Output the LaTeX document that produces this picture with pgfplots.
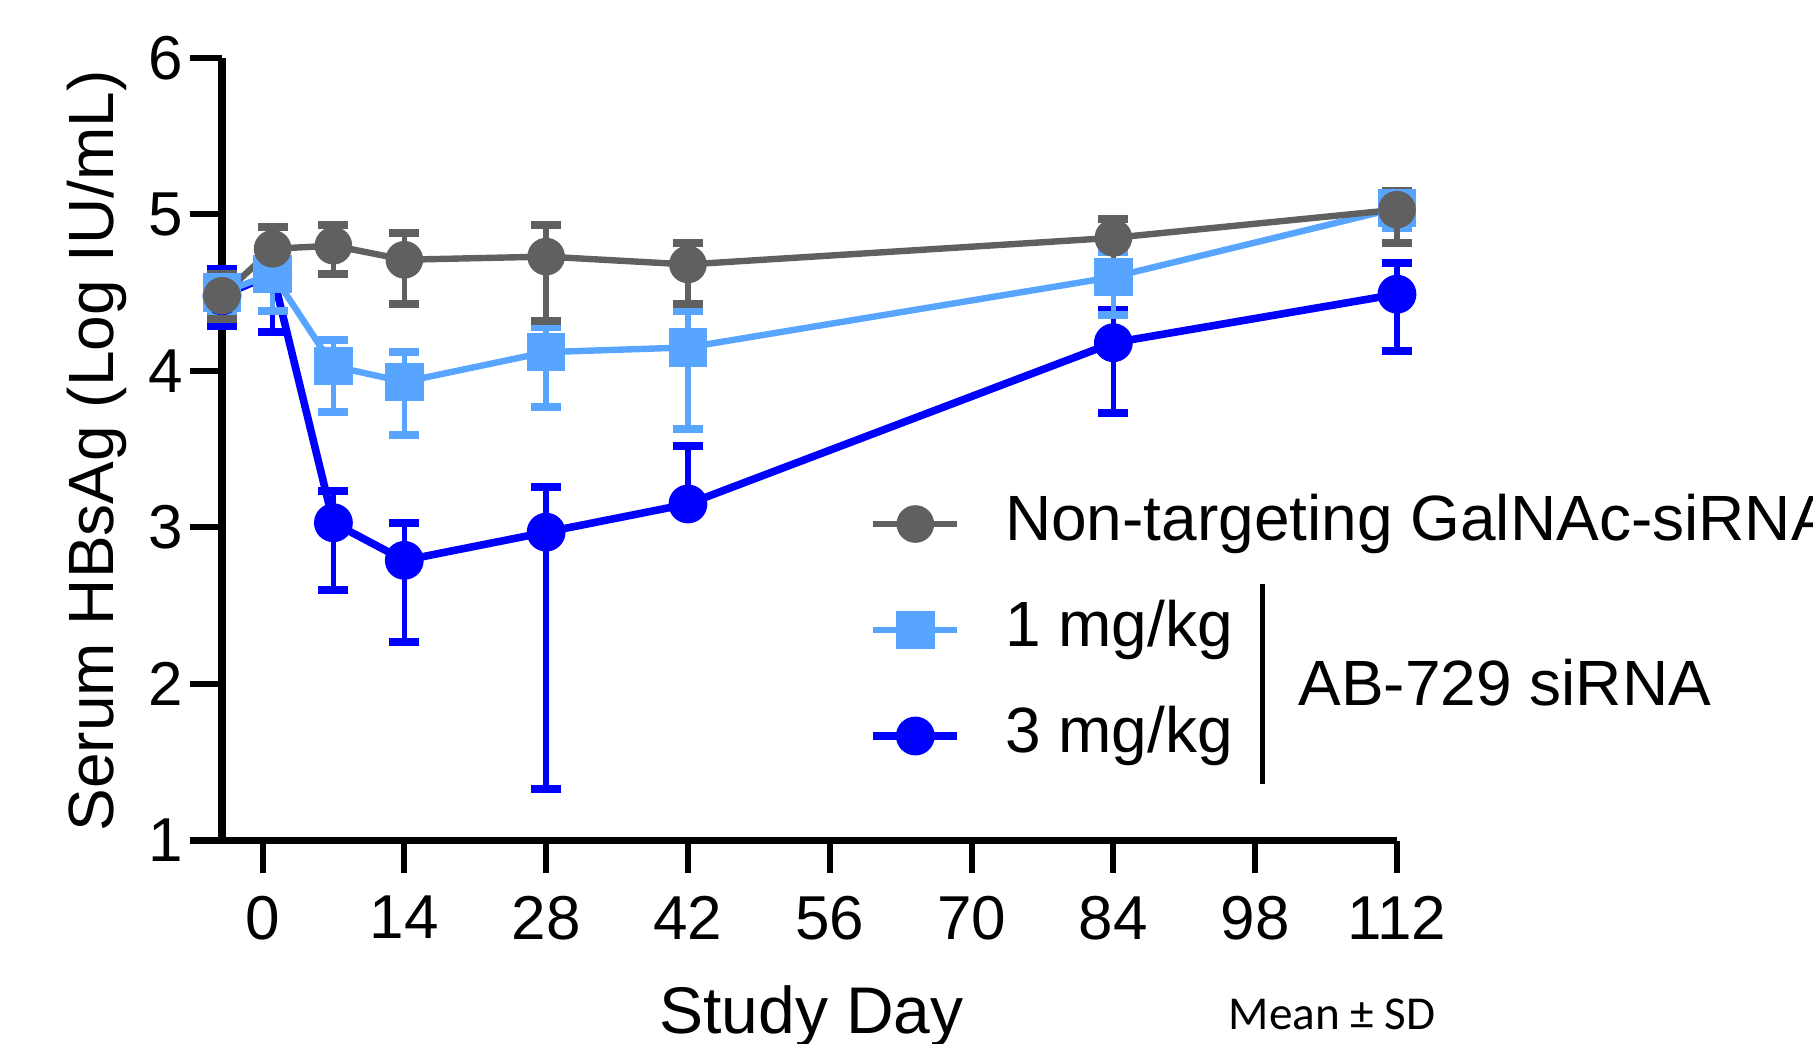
\documentclass[border=0pt]{standalone}
\usepackage{pgfplots}
\pgfplotsset{compat=1.18}
\usepackage{fontspec}
\setmainfont{Liberation Sans}
\newfontfamily\calibri{Carlito}
\definecolor{ntGray}{HTML}{606060}
\definecolor{lowBlue}{HTML}{58A5FF}
\definecolor{highBlue}{HTML}{0000FF}

\begin{document}
\begin{tikzpicture}
\useasboundingbox (-55.5pt,-50.85pt) rectangle (397.75pt,210.15pt);
\begin{axis}[
  scale only axis, width=293.75pt, height=195.7pt,
  xmin=-4, xmax=112, ymin=1, ymax=6,
  xtick={0,14,...,112}, ytick={1,...,6},
  axis x line*=bottom, axis y line*=left,
  axis line style={line width=1.9pt, -},
  tick style={line width=1.5pt, black},
  major tick length=8pt, tick align=outside,
  tick label style={font=\fontsize{15.5}{15.5}\selectfont},
  xticklabel style={yshift=-2.3pt},
  yticklabel style={xshift=1.7pt},
  /pgf/number format/assume math mode=true,
  clip=false,
  reverse legend,
  legend cell align=left,
  legend image code/.code={\draw[mark repeat=2, mark phase=2, #1] plot coordinates {(0pt,0pt) (10.5pt,0pt) (21pt,0pt)};},
  legend style={at={(axis cs:59.85,2.345)}, anchor=west, draw=none, fill=none,
    font=\fontsize{16}{16}\selectfont, row sep=10.5pt, inner sep=0pt,
    nodes={inner sep=0pt, text height=12pt, text depth=4pt},
    /tikz/every odd column/.append style={column sep=11pt}},
]
% 3 mg/kg
\addplot[highBlue, line width=1.9pt, mark=*, mark size=3.9pt, mark options={solid, fill=highBlue},
  error bars/.cd, y dir=both, y explicit,
  error bar style={line width=1.4pt, highBlue},
  error mark options={rotate=90, mark size=3.75pt, line width=2pt, highBlue}]
  coordinates {
  (-4,4.48) += (0,0.17) -= (0,0.19)
  (1,4.62) += (0,0.16) -= (0,0.37)
  (7,3.03) += (0,0.20) -= (0,0.43)
  (14,2.79) += (0,0.24) -= (0,0.52)
  (28,2.97) += (0,0.29) -= (0,1.64)
  (42,3.15) += (0,0.37) -= (0,0)
  (84,4.18) += (0,0.21) -= (0,0.45)
  (112,4.49) += (0,0.20) -= (0,0.36)
  };
\addlegendentry{3 mg/kg}
% 1 mg/kg
\addplot[lowBlue, line width=1.6pt, mark=square*, mark size=4pt, mark options={solid, fill=lowBlue},
  error bars/.cd, y dir=both, y explicit,
  error bar style={line width=1.4pt, lowBlue},
  error mark options={rotate=90, mark size=3.75pt, line width=2pt, lowBlue}]
  coordinates {
  (-4,4.50) += (0,0.10) -= (0,0.12)
  (1,4.62) += (0,0.18) -= (0,0.24)
  (7,4.03) += (0,0.17) -= (0,0.29)
  (14,3.93) += (0,0.19) -= (0,0.34)
  (28,4.12) += (0,0.16) -= (0,0.35)
  (42,4.15) += (0,0.23) -= (0,0.52)
  (84,4.60) += (0,0.16) -= (0,0.24)
  (112,5.04) += (0,0.10) -= (0,0.13)
  };
\addlegendentry{1 mg/kg}
% non-targeting
\addplot[ntGray, line width=1.6pt, mark=*, mark size=3.9pt, mark options={solid, fill=ntGray},
  error bars/.cd, y dir=both, y explicit,
  error bar style={line width=1.4pt, ntGray},
  error mark options={rotate=90, mark size=3.75pt, line width=2pt, ntGray}]
  coordinates {
  (-4,4.48) += (0,0.14) -= (0,0.15)
  (1,4.78) += (0,0.14) -= (0,0.17)
  (7,4.80) += (0,0.13) -= (0,0.18)
  (14,4.71) += (0,0.17) -= (0,0.28)
  (28,4.73) += (0,0.20) -= (0,0.41)
  (42,4.68) += (0,0.14) -= (0,0.25)
  (84,4.85) += (0,0.12) -= (0,0.22)
  (112,5.03) += (0,0.12) -= (0,0.21)
  };
\addlegendentry{Non-targeting GalNAc-siRNA}

\draw[line width=1.9pt] ([xshift=-8pt]axis cs:-4,1) -- (axis cs:-4,1);
\draw[line width=1.3pt] (axis cs:98.7,2.64) -- (axis cs:98.7,1.36);
\node[anchor=west, inner sep=0pt, font=\fontsize{16}{16}\selectfont] at (axis cs:102.2,2.01) {AB-729 siRNA};
\node[font=\fontsize{16.5}{16.5}\selectfont] at ([yshift=-44pt]axis cs:54.2,1) {Study Day};
\node[rotate=90, font=\fontsize{16}{16}\selectfont] at ([xshift=-31.2pt]axis cs:-4,3.49) {Serum HBsAg (Log IU/mL)};
\node[font=\calibri\fontsize{11.8}{12}\selectfont] at ([yshift=-43.35pt]axis cs:105.6,1) {Mean ± SD};
\end{axis}
\end{tikzpicture}
\end{document}
